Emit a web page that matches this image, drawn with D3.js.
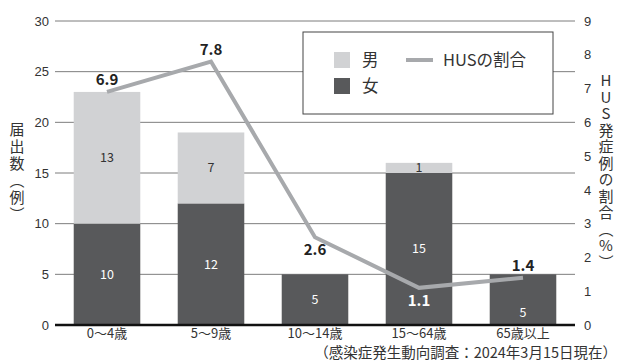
<!DOCTYPE html>
<html><head><meta charset="utf-8">
<script src="https://cdn.jsdelivr.net/npm/d3@7"></script>
<style>body{margin:0;background:#fff}svg{display:block;font-family:"Noto Sans CJK JP","Noto Sans",sans-serif}
.vt{writing-mode:vertical-rl;}
.vt-up{writing-mode:vertical-rl;text-orientation:upright;}
</style>
</head><body><svg id="c" width="617" height="361"></svg>
<script>
const categories = ["0〜4歳","5〜9歳","10〜14歳","15〜64歳","65歳以上"];
const female = [10,12,5,15,5];
const male = [13,7,0,1,0];
const husRate = [6.9,7.8,2.6,1.1,1.4];
const leftTicks = [0,5,10,15,20,25,30];
const rightTicks = [0,1,2,3,4,5,6,7,8,9];
const husLabelPos = ["above","above","below","below","above"];

const svg = d3.select("#c");
const L=55,R=575,T=21,B=325;
const x = d3.scaleBand().domain(categories).range([L,R]).paddingInner(0.36).paddingOuter(0.18);
const y = d3.scaleLinear().domain([0,30]).range([B,T]);
const y2 = d3.scaleLinear().domain([0,9]).range([B,T]);
const cLight="#d1d2d4", cDark="#58595b", cLine="#a7a9ac";

// grid
svg.append("g").selectAll("line").data(leftTicks.filter(d=>d>0)).join("line")
  .attr("x1",L).attr("x2",R).attr("y1",d=>y(d)).attr("y2",d=>y(d))
  .attr("stroke","#7d7d7d").attr("stroke-width",1);

// axes
const ax = svg.append("g").attr("transform",`translate(${L},0)`)
  .call(d3.axisLeft(y).tickValues(leftTicks).tickSize(0).tickPadding(6));
ax.select(".domain").remove();
ax.selectAll("text").attr("font-size",13).attr("fill","#333").style("font-family","inherit");
const ax2 = svg.append("g").attr("transform",`translate(${R},0)`)
  .call(d3.axisRight(y2).tickValues(rightTicks).tickSize(0).tickPadding(9));
ax2.select(".domain").remove();
ax2.selectAll("text").attr("font-size",13).attr("fill","#333").style("font-family","inherit");

// bars
const data = categories.map((c,i)=>({c,f:female[i],m:male[i],h:husRate[i],i}));
svg.append("g").selectAll("rect").data(data).join("rect")
  .attr("x",d=>x(d.c)).attr("width",x.bandwidth())
  .attr("y",d=>y(d.f)).attr("height",d=>y(0)-y(d.f)).attr("fill",cDark);
svg.append("g").selectAll("rect").data(data.filter(d=>d.m>0)).join("rect")
  .attr("x",d=>x(d.c)).attr("width",x.bandwidth())
  .attr("y",d=>y(d.f+d.m)).attr("height",d=>y(d.f)-y(d.f+d.m)).attr("fill",cLight);

// baseline
svg.append("line").attr("x1",L).attr("x2",R).attr("y1",B).attr("y2",B).attr("stroke","#111").attr("stroke-width",2.5);

// bar labels
svg.append("g").selectAll("text").data(data).join("text")
  .attr("x",d=>x(d.c)+x.bandwidth()/2)
  .attr("y",d=>y(d.f/2) + (d.i===4?13:0)).attr("dy","0.35em")
  .attr("text-anchor","middle").attr("font-size",12.5).attr("fill","#fff").text(d=>d.f);
svg.append("g").selectAll("text").data(data.filter(d=>d.m>0)).join("text")
  .attr("x",d=>x(d.c)+x.bandwidth()/2)
  .attr("y",d=>y(d.f+d.m/2)).attr("dy","0.35em")
  .attr("text-anchor","middle").attr("font-size",12.5).attr("fill","#333").text(d=>d.m);

// line
const line = d3.line().x(d=>x(d.c)+x.bandwidth()/2).y(d=>y2(d.h));
svg.append("path").datum(data).attr("d",line).attr("fill","none")
  .attr("stroke",cLine).attr("stroke-width",4).attr("stroke-linejoin","miter");
svg.append("g").selectAll("text").data(data).join("text")
  .attr("x",d=>x(d.c)+x.bandwidth()/2)
  .attr("y",d=>y2(d.h)+(husLabelPos[d.i]==="above"?-12:13)).attr("dy","0.35em")
  .attr("text-anchor","middle").attr("font-size",15).attr("font-weight","bold")
  .attr("fill",d=>d.i===3?"#fff":"#222").text(d=>d.h.toFixed(1));

// x labels
svg.append("g").selectAll("text").data(categories).join("text")
  .attr("x",d=>x(d)+x.bandwidth()/2).attr("y",337.5)
  .attr("text-anchor","middle").attr("font-size",13).attr("fill","#333").text(d=>d);
svg.append("text").attr("x",617).attr("y",357.5).attr("text-anchor","end")
  .attr("font-size",14.5).attr("fill","#333").text("（感染症発生動向調査：2024年3月15日現在）");

// legend
const lg = svg.append("g");
lg.append("rect").attr("x",303).attr("y",32).attr("width",250).attr("height",82)
  .attr("fill","#fff").attr("stroke","#444").attr("stroke-width",1);
lg.append("rect").attr("x",334).attr("y",52).attr("width",16).attr("height",16).attr("fill",cLight);
lg.append("rect").attr("x",334).attr("y",78).attr("width",16).attr("height",16).attr("fill",cDark);
lg.append("text").attr("x",362).attr("y",66).attr("font-size",16.5).attr("fill","#333").text("男");
lg.append("text").attr("x",362).attr("y",92).attr("font-size",16.5).attr("fill","#333").text("女");
lg.append("line").attr("x1",406).attr("x2",433).attr("y1",60).attr("y2",60).attr("stroke",cLine).attr("stroke-width",4);
lg.append("text").attr("x",443).attr("y",66).attr("font-size",16.5).attr("fill","#333").text("HUSの割合");

// axis titles (vertical)
svg.append("text").attr("class","vt").attr("x",17).attr("y",122)
  .attr("font-size",15).attr("letter-spacing",2).attr("fill","#333").text("届出数（例）");
svg.append("text").attr("class","vt-up").attr("x",606).attr("y",73)
  .attr("font-size",15).attr("letter-spacing",1.5).attr("fill","#333").text("HUS発症例の割合（%）");
</script></body></html>
